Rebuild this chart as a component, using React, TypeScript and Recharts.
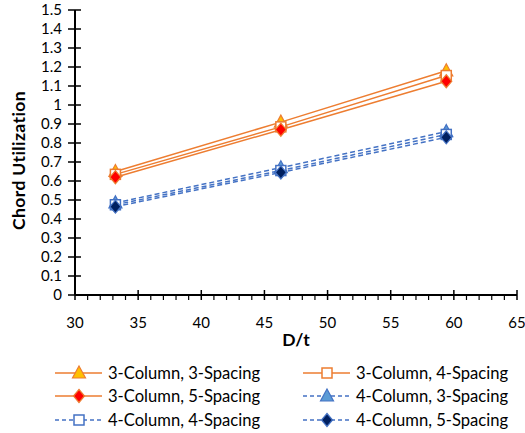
import React from "react";
import { LineChart, Line, XAxis, YAxis, Legend } from "recharts";

// D/t values shared by every series
const dt = [33.2, 46.3, 59.4];

// chord utilization per configuration
const c3s3 = [0.65, 0.91, 1.18];
const c3s4 = [0.635, 0.885, 1.155];
const c3s5 = [0.62, 0.87, 1.125];
const c4s3 = [0.485, 0.67, 0.86];
const c4s4 = [0.475, 0.655, 0.845];
const c4s5 = [0.465, 0.645, 0.83];

const xMajor = [30, 35, 40, 45, 50, 55, 60, 65];
const yTicks = [0, 0.1, 0.2, 0.3, 0.4, 0.5, 0.6, 0.7, 0.8, 0.9, 1, 1.1, 1.2, 1.3, 1.4, 1.5];

const FONT = "Lato, 'Open Sans', sans-serif";
const ORANGE = "#ED7D31";
const BLUE = "#4472C4";

type Marker = "triangle" | "square" | "diamond";

const series = [
  { key: "c3s3", name: "3-Column, 3-Spacing", values: c3s3, color: ORANGE, dash: undefined, marker: "triangle" as Marker, fill: "#FFC000" },
  { key: "c3s4", name: "3-Column, 4-Spacing", values: c3s4, color: ORANGE, dash: undefined, marker: "square" as Marker, fill: "#FFFFFF" },
  { key: "c3s5", name: "3-Column, 5-Spacing", values: c3s5, color: ORANGE, dash: undefined, marker: "diamond" as Marker, fill: "#FF0000" },
  { key: "c4s3", name: "4-Column, 3-Spacing", values: c4s3, color: BLUE, dash: "5 3", marker: "triangle" as Marker, fill: "#5B9BD5" },
  { key: "c4s4", name: "4-Column, 4-Spacing", values: c4s4, color: BLUE, dash: "5 3", marker: "square" as Marker, fill: "#FFFFFF" },
  { key: "c4s5", name: "4-Column, 5-Spacing", values: c4s5, color: BLUE, dash: "5 3", marker: "diamond" as Marker, fill: "#002060" },
];

const data = dt.map((x, i) => {
  const row: Record<string, number> = { dt: x };
  series.forEach((s) => (row[s.key] = s.values[i]));
  return row;
});

// every whole D/t gets a minor tick, the majors also get a label
const xAllTicks = Array.from({ length: 36 }, (_, i) => 30 + i);

function MarkerShape({ cx, cy, kind, stroke, fill }: any) {
  if (cx == null || cy == null) return null;
  if (kind === "triangle")
    return <path d={`M${cx},${cy - 7} L${cx + 6.5},${cy + 5} L${cx - 6.5},${cy + 5} Z`} fill={fill} stroke={stroke} strokeWidth={1.2} />;
  if (kind === "square")
    return <rect x={cx - 5} y={cy - 5} width={10} height={10} fill={fill} stroke={stroke} strokeWidth={1.5} />;
  return <path d={`M${cx},${cy - 6.5} L${cx + 5.5},${cy} L${cx},${cy + 6.5} L${cx - 5.5},${cy} Z`} fill={fill} stroke={stroke} strokeWidth={1.2} />;
}

function XTick({ x, y, payload }: any) {
  const v = payload.value;
  if (!xMajor.includes(v)) return <line x1={x} x2={x} y1={y} y2={y + 5} stroke="#000" strokeWidth={1.2} />;
  return (
    <g>
      <line x1={x} x2={x} y1={y - 5} y2={y + 5} stroke="#000" strokeWidth={1.5} />
      <text x={x} y={y + 33} textAnchor="middle" fontFamily={FONT} fontSize={15} fill="#000">{v}</text>
    </g>
  );
}

function YTick({ x, y, payload }: any) {
  return (
    <g>
      <line x1={x - 7} x2={x + 6} y1={y} y2={y} stroke="#000" strokeWidth={1.5} />
      <text x={x - 13} y={y + 5} textAnchor="end" fontFamily={FONT} fontSize={15} fill="#000">{payload.value}</text>
    </g>
  );
}

function LegendBox() {
  const cols = [55, 303];
  const rows = [23, 46, 70];
  return (
    <svg width={525} height={83} style={{ display: "block" }}>
      {series.map((s, i) => {
        const x0 = cols[i % 2];
        const y = rows[Math.floor(i / 2)];
        return (
          <g key={s.key}>
            <line x1={x0} x2={x0 + 47} y1={y} y2={y} stroke={s.color} strokeWidth={1.5} strokeDasharray={s.dash ? "4 3" : undefined} />
            <MarkerShape cx={x0 + 24} cy={y} kind={s.marker} stroke={s.color} fill={s.fill} />
            <text x={x0 + 53} y={y + 6} fontFamily={FONT} fontSize={16.6} fill="#000">{s.name}</text>
          </g>
        );
      })}
    </svg>
  );
}

export default function App() {
  return (
    <div style={{ position: "fixed", left: 0, top: 0, width: 525, height: 433, background: "#fff" }}>
      <LineChart width={525} height={433} data={data} margin={{ top: 10, right: 8, left: 0, bottom: 0 }}>
        <XAxis
          xAxisId="top"
          orientation="top"
          dataKey="dt"
          type="number"
          domain={[30, 65]}
          height={0}
          tick={false}
          tickLine={false}
          axisLine={{ stroke: "#404040", strokeWidth: 1.5 }}
        />
        <YAxis
          yAxisId="right"
          orientation="right"
          domain={[0, 1.5]}
          width={0}
          tick={false}
          tickLine={false}
          axisLine={{ stroke: "#404040", strokeWidth: 1.5 }}
        />
        <XAxis
          dataKey="dt"
          type="number"
          domain={[30, 65]}
          ticks={xAllTicks}
          interval={0}
          tickLine={false}
          tickSize={0}
          tickMargin={0}
          tick={<XTick />}
          height={55}
          axisLine={{ stroke: "#000", strokeWidth: 2 }}
          label={({ viewBox }: any) => (
            <text x={viewBox.x + viewBox.width / 2} y={viewBox.y + 51} textAnchor="middle" fontFamily={FONT} fontWeight="bold" fontSize={17.5} fill="#000">D/t</text>
          )}
        />
        <YAxis
          domain={[0, 1.5]}
          ticks={yTicks}
          interval={0}
          tickLine={false}
          tickSize={0}
          tickMargin={0}
          tick={<YTick />}
          width={75}
          axisLine={{ stroke: "#000", strokeWidth: 2 }}
          label={({ viewBox }: any) => {
            const cy = viewBox.y + viewBox.height / 2 + 8;
            return (
              <text x={18} y={cy} transform={`rotate(-90 18 ${cy})`} textAnchor="middle" dominantBaseline="central" fontFamily={FONT} fontWeight="bold" fontSize={17.5} letterSpacing={0.4} fill="#000">Chord Utilization</text>
            );
          }}
        />
        {series.map((s) => (
          <Line
            key={s.key}
            dataKey={s.key}
            name={s.name}
            stroke={s.color}
            strokeWidth={1.5}
            strokeDasharray={s.dash}
            isAnimationActive={false}
            dot={(p: any) => <MarkerShape key={`${s.key}-${p.index}`} cx={p.cx} cy={p.cy} kind={s.marker} stroke={s.color} fill={s.fill} />}
            activeDot={false}
          />
        ))}
        <Legend verticalAlign="bottom" height={83} wrapperStyle={{ left: 0, width: 525, height: 83 }} content={() => <LegendBox />} />
      </LineChart>
    </div>
  );
}
